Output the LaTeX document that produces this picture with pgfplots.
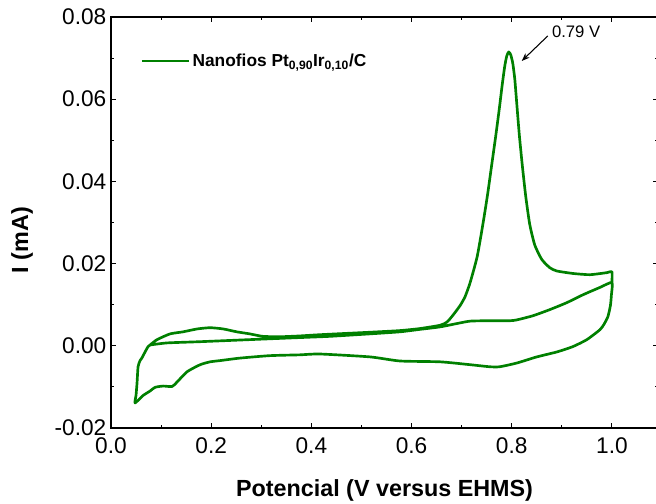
\documentclass[border=0pt]{standalone}
\usepackage{fontspec}
\setmainfont{Liberation Sans}
\usepackage{pgfplots}
\pgfplotsset{compat=1.18}
\usetikzlibrary{arrows.meta,calc}
\definecolor{cvgreen}{RGB}{0,128,0}

\begin{document}
\begin{tikzpicture}
\begin{axis}[
  name=ax,
  scale only axis,
  width=410.25pt, height=308.25pt,
  xmin=0, xmax=1.092, ymin=-0.02, ymax=0.08,
  xtick={0,0.2,0.4,0.6,0.8,1.0},
  ytick={-0.02,0,0.02,0.04,0.06,0.08},
  minor x tick num=1, minor y tick num=1,
  scaled x ticks=false, scaled y ticks=false,
  tick align=inside,
  major tick length=4pt, minor tick length=2.5pt,
  axis line style={line width=0.9pt},
  every tick/.style={black, line width=0.8pt},
  /pgf/number format/assume math mode=true,
  xticklabel style={yshift=-3.5pt, /pgf/number format/fixed, /pgf/number format/fixed zerofill, /pgf/number format/precision=1},
  yticklabel style={/pgf/number format/fixed, /pgf/number format/fixed zerofill, /pgf/number format/precision=2},
  tick label style={font=\fontsize{17}{20}\selectfont},
  xlabel={Potencial (V versus EHMS)},
  ylabel={I (mA)},
  every axis x label/.style={at={(axis description cs:0.5,0)}, anchor=base, yshift=-51.75pt, font=\bfseries\fontsize{17.5}{20}\selectfont},
  every axis y label/.style={at={(axis description cs:-0.1517,0.457)}, rotate=90, anchor=base, font=\bfseries\fontsize{17.5}{20}\selectfont},
  legend style={at={(rel axis cs:0.0536,0.893)}, anchor=west, draw=none, fill=none, inner sep=0pt,
    font=\bfseries\fontsize{13}{15}\selectfont,
    /tikz/every even column/.append style={column sep=2pt}},
  legend cell align=left,
  legend image code/.code={\draw[#1] (0pt,0pt) -- (35pt,0pt);},
]
\addplot[cvgreen, line width=2pt, line join=round, smooth, tension=0.35] coordinates {
  % middle branch
  (0.078,0.0002) (0.112,0.0007) (0.178,0.0010) (0.277,0.0015) (0.377,0.0020)
  (0.437,0.0023) (0.517,0.0029) (0.577,0.0034) (0.617,0.0040) (0.657,0.0046)
  (0.690,0.0054) (0.717,0.0060) (0.756,0.0061) (0.796,0.0061) (0.810,0.0063)
  (0.842,0.0073) (0.876,0.0088) (0.910,0.0105) (0.942,0.0124) (0.976,0.0142)
  (1.000,0.0154)
  % reverse sweep
  (0.999,0.0124) (0.997,0.0098) (0.992,0.0071) (0.984,0.0052) (0.976,0.0039)
  (0.950,0.0015) (0.922,-0.0002) (0.890,-0.0015) (0.850,-0.0027) (0.810,-0.0042)
  (0.776,-0.0051) (0.756,-0.0051) (0.717,-0.0046) (0.657,-0.0039) (0.577,-0.0037)
  (0.517,-0.0027) (0.417,-0.0020) (0.377,-0.0022) (0.317,-0.0024) (0.257,-0.0030)
  (0.218,-0.0036) (0.198,-0.0039) (0.178,-0.0046) (0.152,-0.0063) (0.132,-0.0088)
  (0.122,-0.0099) (0.104,-0.0098) (0.088,-0.0101) (0.078,-0.0110) (0.064,-0.0121)
  (0.048,-0.0139)
  % forward sweep
  (0.050,-0.0120) (0.052,-0.0090) (0.054,-0.0051) (0.058,-0.0036) (0.062,-0.0029)
  (0.068,-0.0015) (0.074,-0.0002) (0.078,0.0002) (0.092,0.0015) (0.118,0.0029)
  (0.144,0.0034) (0.172,0.0041) (0.198,0.0044) (0.224,0.0041) (0.251,0.0034)
  (0.277,0.0029) (0.303,0.0023) (0.337,0.0022) (0.377,0.0024) (0.417,0.0027)
  (0.517,0.0033) (0.577,0.0037) (0.617,0.0042) (0.657,0.0050) (0.671,0.0058)
  (0.683,0.0075) (0.697,0.0098) (0.707,0.0120) (0.717,0.0154) (0.731,0.0217)
  (0.743,0.0300) (0.752,0.0370) (0.760,0.0440) (0.768,0.0510) (0.775,0.0575)
  (0.781,0.0635) (0.786,0.0680) (0.790,0.0705) (0.794,0.0715) (0.798,0.0708)
  (0.802,0.0688) (0.806,0.0650) (0.810,0.0590) (0.815,0.0515) (0.821,0.0440)
  (0.828,0.0363) (0.836,0.0295) (0.846,0.0245) (0.860,0.0210) (0.876,0.0190)
  (0.890,0.0182) (0.922,0.0176) (0.956,0.0173) (0.990,0.0178) (1.000,0.0180)
  (1.000,0.0154)
};
\addlegendentry{Nanofios Pt\textsubscript{0,90}Ir\textsubscript{0,10}/C}
\draw[-{Stealth[length=6pt,width=4.5pt]}, line width=0.8pt] (axis cs:0.872,0.0754) -- (axis cs:0.820,0.0693);
\node[anchor=west, inner sep=0pt, font=\fontsize{12.5}{14}\selectfont] at (axis cs:0.880,0.0763) {0.79 V};
\end{axis}
\pgfresetboundingbox
\path ($(ax.south west)+(-83.25pt,-57pt)$) rectangle ($(ax.north east)+(-1.5pt,12.75pt)$);
\end{tikzpicture}
\end{document}
